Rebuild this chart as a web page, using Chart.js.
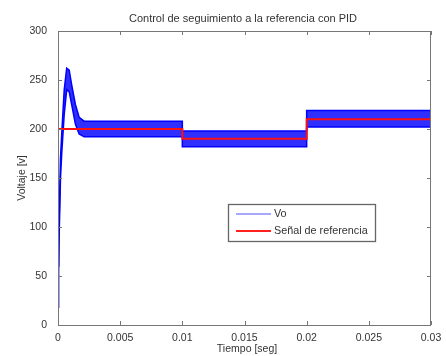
<!DOCTYPE html>
<html>
<head>
<meta charset="utf-8">
<script src="https://cdn.jsdelivr.net/npm/chart.js@4"></script>
<style>
  html, body { margin: 0; padding: 0; background: #fff; }
  #wrap { width: 446px; height: 356px; }
</style>
</head>
<body>
<div id="wrap"><canvas id="pidChart" width="446" height="356"></canvas></div>
<script>
// Vo envelope (ripple band)
const tVo  = [0, 0.00005, 0.0001, 0.0002, 0.0003, 0.0005, 0.0007, 0.0009, 0.0011, 0.0014, 0.0017, 0.0021, 0.0025, 0.01, 0.01, 0.02, 0.02, 0.03]
const voHi = [60, 90, 112, 170, 195, 240, 262, 260, 245, 225, 212, 208, 208, 208, 198, 198, 219, 219]
const voLo = [18, 55, 95, 150, 175, 215, 240, 238, 225, 205, 195, 192, 192, 192, 182, 182, 202, 202]

// reference signal
const tRef = [0, 0.01, 0.01, 0.02, 0.02, 0.03]
const ref  = [200, 200, 190, 190, 210, 210]

const xTicks = [0, 0.005, 0.01, 0.015, 0.02, 0.025, 0.03]
const yTicks = [0, 50, 100, 150, 200, 250, 300]

const titleText = 'Control de seguimiento a la referencia con PID'
const xTitle = 'Tiempo [seg]'
const yTitle = 'Voltaje [v]'
const legendLabels = ['Vo', 'Señal de referencia']

const pts = (xs, ys) => xs.map((x, i) => ({ x, y: ys[i] }))
const FONT = '"Liberation Sans", Arial, sans-serif'

// MATLAB-ish frame, inside ticks, titles and legend box
const decor = {
  id: 'decor',
  afterDraw(chart) {
    const { ctx, chartArea: a, scales } = chart
    ctx.save()
    ctx.strokeStyle = '#777'
    ctx.lineWidth = 1
    ctx.strokeRect(a.left + 0.5, a.top + 0.5, a.right - a.left - 1, a.bottom - a.top)

    ctx.beginPath()
    xTicks.forEach(v => {
      const px = Math.round(scales.x.getPixelForValue(v)) + 0.5
      ctx.moveTo(px, a.bottom); ctx.lineTo(px, a.bottom - 4)
      ctx.moveTo(px, a.top); ctx.lineTo(px, a.top + 4)
    })
    yTicks.forEach(v => {
      const py = Math.round(scales.y.getPixelForValue(v)) + 0.5
      ctx.moveTo(a.left, py); ctx.lineTo(a.left + 4, py)
      ctx.moveTo(a.right, py); ctx.lineTo(a.right - 4, py)
    })
    ctx.stroke()

    ctx.fillStyle = '#333'
    ctx.font = '11px ' + FONT
    ctx.textAlign = 'center'
    ctx.textBaseline = 'middle'
    ctx.fillText(titleText, 243, 19)
    ctx.font = '10.5px ' + FONT
    ctx.fillText(xTitle, 247, 349)
    ctx.translate(22, (a.top + a.bottom) / 2)
    ctx.rotate(-Math.PI / 2)
    ctx.fillText(yTitle, 0, 0)
    ctx.restore()

    // legend
    ctx.save()
    const lx = 228, ly = 204, lw = 147, lh = 37
    ctx.fillStyle = '#fff'
    ctx.fillRect(lx, ly, lw, lh)
    ctx.strokeStyle = '#666'
    ctx.lineWidth = 1.3
    ctx.strokeRect(lx + 0.5, ly + 0.5, lw, lh)
    const cols = ['#5050ff', '#ff2020']
    legendLabels.forEach((txt, i) => {
      const yy = ly + 10 + i * 17
      ctx.strokeStyle = cols[i]
      ctx.lineWidth = i === 0 ? 1.2 : 2
      ctx.beginPath(); ctx.moveTo(236, yy); ctx.lineTo(271, yy); ctx.stroke()
      ctx.fillStyle = '#333'
      ctx.font = '10.8px ' + FONT
      ctx.textAlign = 'left'
      ctx.textBaseline = 'middle'
      ctx.fillText(txt, 274, yy)
    })
    ctx.restore()
  }
}

const ctx = document.getElementById('pidChart').getContext('2d')
const pidChart = new Chart(ctx, {
  type: 'line',
  data: {
    datasets: [
      { label: 'ref', data: pts(tRef, ref), borderColor: '#ff1010', borderWidth: 2, pointRadius: 0, fill: false, tension: 0 },
      { label: 'Vo hi', data: pts(tVo, voHi), borderColor: '#0000ff', borderWidth: 1.5, pointRadius: 0, fill: false, tension: 0 },
      { label: 'Vo', data: pts(tVo, voLo), borderColor: '#0000ff', borderWidth: 1.5, pointRadius: 0, fill: '-1', backgroundColor: 'rgba(10,10,255,0.85)', tension: 0 }
    ]
  },
  options: {
    responsive: false,
    animation: false,
    layout: { padding: { top: 31, right: 15, left: 0, bottom: 0 } },
    plugins: { legend: { display: false }, title: { display: false }, tooltip: { enabled: false } },
    scales: {
      x: {
        type: 'linear', min: 0, max: 0.03,
        grid: { display: false }, border: { display: false },
        afterFit: s => { s.height = 31 },
        afterBuildTicks: s => { s.ticks = xTicks.map(v => ({ value: v })) },
        ticks: {
          padding: -1, color: '#333', font: { size: 10.5, family: FONT }, maxRotation: 0, autoSkip: false,
          callback: v => String(Number(v.toFixed(3)))
        }
      },
      y: {
        min: 0, max: 300,
        grid: { display: false }, border: { display: false },
        afterFit: s => { s.width = 58 },
        afterBuildTicks: s => { s.ticks = yTicks.map(v => ({ value: v })) },
        ticks: { padding: 3, color: '#333', font: { size: 10.5, family: FONT } }
      }
    }
  },
  plugins: [decor]
})
</script>
</body>
</html>
